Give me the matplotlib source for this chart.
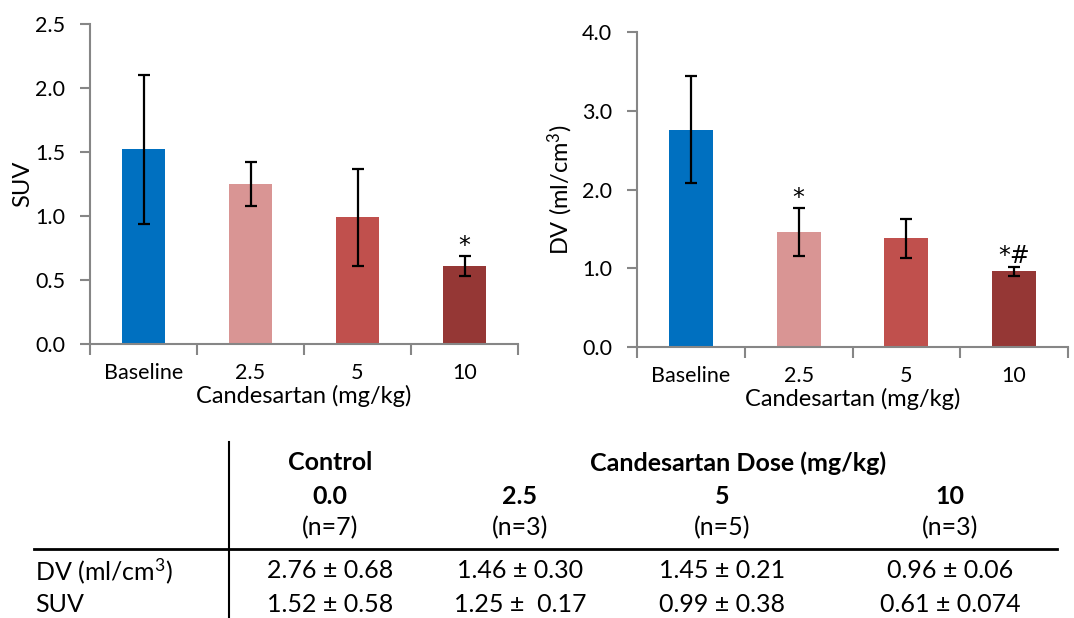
import matplotlib
matplotlib.use("Agg")
import matplotlib.pyplot as plt
import numpy as np

plt.rcParams['font.family'] = ['Lato', 'DejaVu Sans']
plt.rcParams['mathtext.fontset'] = 'custom'
plt.rcParams['mathtext.rm'] = 'Lato'
plt.rcParams['mathtext.it'] = 'Lato:italic'

# chart data
categories = ['Baseline', '2.5', '5', '10']
colors = ['#0070C0', '#D99594', '#C0504D', '#953735']

suv_mean = [1.52, 1.25, 0.99, 0.61]
suv_err = [0.58, 0.17, 0.38, 0.075]
suv_marks = ['', '', '', '*']

dv_mean = [2.76, 1.46, 1.38, 0.96]
dv_err = [0.68, 0.30, 0.25, 0.06]
dv_marks = ['', '*', '', '*#']

# table data
dose_labels = ['0.0', '2.5', '5', '10']
n_labels = ['(n=7)', '(n=3)', '(n=5)', '(n=3)']
dv_cells = ['2.76 ± 0.68', '1.46 ± 0.30', '1.45 ± 0.21', '0.96 ± 0.06']
suv_cells = ['1.52 ± 0.58', '1.25 ±  0.17', '0.99 ± 0.38', '0.61 ± 0.074']

W, H = 1074, 618
fig = plt.figure(figsize=(W / 100, H / 100), dpi=100)

AXIS_GREY = '#868686'
TICK_FS = 15.5
LABEL_FS = 17
TABLE_FS = 18


def px_rect(x0, y0, x1, y1):
    return [x0 / W, 1 - y1 / H, (x1 - x0) / W, (y1 - y0) / H]


def bar_panel(ax, means, errs, marks, ymax, ystep, ylabel):
    x = np.arange(len(categories))
    ax.bar(x, means, width=0.41, color=colors, zorder=2)
    ax.errorbar(x, means, yerr=errs, fmt='none', ecolor='black',
                elinewidth=1.6, capsize=4.5, capthick=1.6, zorder=3)
    for xi, m, e, s in zip(x, means, errs, marks):
        if s:
            ax.annotate(s, xy=(xi, m + e), xytext=(0, -1), textcoords='offset points',
                        ha='center', va='bottom', fontsize=17, family=['DejaVu Sans'])
    ax.set_xlim(-0.5, len(categories) - 0.5)
    ax.set_ylim(0, ymax)
    yt = np.arange(0, ymax + 1e-9, ystep)
    ax.set_yticks(yt)
    ax.set_yticklabels([f'{v:.1f}' for v in yt])
    # category boundaries carry the tick marks, labels sit in between
    ax.set_xticks(np.arange(-0.5, len(categories)), minor=False)
    ax.set_xticklabels([])
    ax.set_xticks(x, minor=True)
    ax.set_xticklabels(categories, minor=True)
    ax.tick_params(axis='x', which='major', length=8, width=1.5, color=AXIS_GREY)
    ax.tick_params(axis='x', which='minor', length=0, pad=14, labelsize=TICK_FS)
    ax.tick_params(axis='y', length=7, width=1.5, color=AXIS_GREY, labelsize=TICK_FS, pad=11)
    for side in ['top', 'right']:
        ax.spines[side].set_visible(False)
    for side in ['left', 'bottom']:
        ax.spines[side].set_color(AXIS_GREY)
        ax.spines[side].set_linewidth(1.5)
    ax.set_xlabel('Candesartan (mg/kg)', fontsize=LABEL_FS, labelpad=1)
    ax.set_ylabel(ylabel, fontsize=LABEL_FS)


ax1 = fig.add_axes(px_rect(90, 24, 518, 344))
bar_panel(ax1, suv_mean, suv_err, suv_marks, 2.5, 0.5, 'SUV')
ax1.yaxis.set_label_coords(-57 / 428, 0.5)

ax2 = fig.add_axes(px_rect(637, 32, 1068, 347))
bar_panel(ax2, dv_mean, dv_err, dv_marks, 4.0, 1.0, 'DV (ml/cm$^3$)')
ax2.yaxis.set_label_coords(-62 / 431, 0.5)


# summary table drawn as text in pixel positions
def ftext(x, y, s, **kw):
    fig.text(x / W, 1 - y / H, s, va='center', fontsize=TABLE_FS, **kw)


col_x = [330, 520, 722, 950]
ftext(col_x[0], 463, 'Control', ha='center', fontweight='bold')
ftext(738, 463, 'Candesartan Dose (mg/kg)', ha='center', fontweight='bold')
for cx, d, n, dv, su in zip(col_x, dose_labels, n_labels, dv_cells, suv_cells):
    ftext(cx, 496, d, ha='center', fontweight='bold')
    ftext(cx, 528, n, ha='center')
    ftext(cx, 571, dv, ha='center')
    ftext(cx, 605, su, ha='center')
ftext(35, 571, 'DV (ml/cm$^3$)', ha='left')
ftext(35, 605, 'SUV', ha='left')

fig.add_artist(plt.Line2D([229 / W, 229 / W], [1 - 442 / H, 0], color='black', lw=1.5))
fig.add_artist(plt.Line2D([34 / W, 1057 / W], [1 - 549 / H, 1 - 549 / H], color='black', lw=2))

fig.savefig('out.png', dpi=100)
